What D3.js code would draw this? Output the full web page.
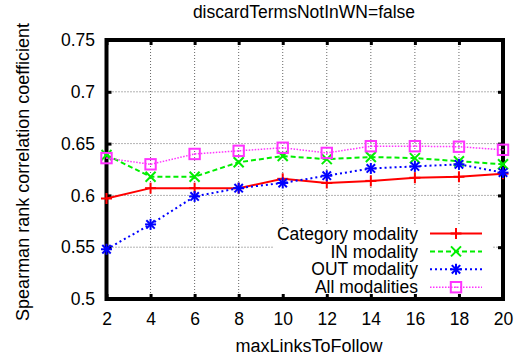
<!DOCTYPE html>
<html>
<head>
<meta charset="utf-8">
<script src="https://cdn.jsdelivr.net/npm/d3@7"></script>
<style>
  body { margin: 0; background: #fff; }
  text { font-family: "Liberation Sans", Arial, sans-serif; fill: #000; }
</style>
</head>
<body>
<div id="main"></div>
<script>
// data
const linkCounts = [2, 4, 6, 8, 10, 12, 14, 16, 18, 20];
const categoryModality = [0.597, 0.607, 0.607, 0.607, 0.616, 0.612, 0.614, 0.617, 0.618, 0.621];
const inModality = [0.639, 0.618, 0.618, 0.632, 0.638, 0.635, 0.637, 0.636, 0.633, 0.630];
const outModality = [0.548, 0.572, 0.599, 0.607, 0.612, 0.619, 0.626, 0.628, 0.630, 0.622];
const allModalities = [0.636, 0.630, 0.640, 0.643, 0.646, 0.641, 0.6475, 0.6475, 0.647, 0.644];
const yTicks = [0.5, 0.55, 0.6, 0.65, 0.7, 0.75];
const yTickLabels = ["0.5", "0.55", "0.6", "0.65", "0.7", "0.75"];

const width = 528;
const height = 361;
const plotLeft = 106.5, plotRight = 503, plotTop = 40, plotBottom = 299;

const svg = d3.select('#main').append('svg')
  .attr('width', width).attr('height', height);

const xScale = d3.scaleLinear().domain([2, 20]).range([plotLeft, plotRight]);
const yScale = d3.scaleLinear().domain([0.5, 0.75]).range([plotBottom, plotTop]);

// grid
const grid = svg.append('g').attr('stroke', '#666').attr('stroke-width', 1)
  .attr('stroke-dasharray', '1,2');
grid.selectAll('.gx').data(linkCounts.slice(1, -1)).enter().append('line')
  .attr('x1', d => xScale(d)).attr('x2', d => xScale(d))
  .attr('y1', plotTop).attr('y2', plotBottom);
grid.selectAll('.gy').data(yTicks.slice(1, -1)).enter().append('line')
  .attr('x1', plotLeft).attr('x2', plotRight)
  .attr('y1', d => yScale(d)).attr('y2', d => yScale(d));

// white key box over the grid
svg.append('rect').attr('x', 273).attr('y', 225).attr('width', 220).attr('height', plotBottom - 225)
  .attr('fill', '#fff');

// axes with inward ticks, mirrored on top and right
const xAxis = d3.axisBottom(xScale).tickValues(linkCounts).tickFormat(d3.format('d'))
  .tickSizeInner(-5).tickSizeOuter(0).tickPadding(26);
const yAxis = d3.axisLeft(yScale).tickValues(yTicks).tickFormat((d, i) => yTickLabels[i])
  .tickSizeInner(-5).tickSizeOuter(0).tickPadding(11.5);

const gx = svg.append('g').attr('transform', 'translate(0,' + plotBottom + ')').call(xAxis);
const gy = svg.append('g').attr('transform', 'translate(' + plotLeft + ',0)').call(yAxis);
svg.append('g').attr('transform', 'translate(0,' + plotTop + ')')
  .call(d3.axisTop(xScale).tickValues(linkCounts).tickFormat('').tickSizeInner(-5).tickSizeOuter(0));
svg.append('g').attr('transform', 'translate(' + plotRight + ',0)')
  .call(d3.axisRight(yScale).tickValues(yTicks).tickFormat('').tickSizeInner(-5).tickSizeOuter(0));

svg.selectAll('.domain').remove();
svg.selectAll('.tick line').attr('stroke', '#000').attr('stroke-width', 3);
gx.selectAll('text').style('font-size', '17.5px').attr('dy', '0');
gy.selectAll('text').style('font-size', '17.5px');

// plot border
svg.append('rect').attr('x', plotLeft).attr('y', plotTop)
  .attr('width', plotRight - plotLeft).attr('height', plotBottom - plotTop)
  .attr('fill', 'none').attr('stroke', '#000').attr('stroke-width', 4);

// series
const series = [
  { name: 'Category modality', values: categoryModality, color: '#ff0000', dash: null, width: 2, mark: 'plus' },
  { name: 'IN modality', values: inModality, color: '#00ee00', dash: '5,3', width: 2, mark: 'cross' },
  { name: 'OUT modality', values: outModality, color: '#0000ff', dash: '2,3', width: 2, mark: 'star' },
  { name: 'All modalities', values: allModalities, color: '#ff33ff', dash: '1.5,1.5', width: 1.5, mark: 'box' }
];

const line = d3.line().x(d => xScale(d[0])).y(d => yScale(d[1]));

function marker(g, cx, cy, s) {
  const r = 5.5;
  const m = g.append('g').attr('stroke', s.color).attr('stroke-width', 2).attr('fill', 'none');
  if (s.mark === 'plus' || s.mark === 'star') {
    m.append('line').attr('x1', cx - r).attr('x2', cx + r).attr('y1', cy).attr('y2', cy);
    m.append('line').attr('x1', cx).attr('x2', cx).attr('y1', cy - r).attr('y2', cy + r);
  }
  if (s.mark === 'cross' || s.mark === 'star') {
    const q = s.mark === 'star' ? 4.2 : 5;
    m.append('line').attr('x1', cx - q).attr('x2', cx + q).attr('y1', cy - q).attr('y2', cy + q);
    m.append('line').attr('x1', cx - q).attr('x2', cx + q).attr('y1', cy + q).attr('y2', cy - q);
  }
  if (s.mark === 'box') {
    m.append('rect').attr('x', cx - 5.2).attr('y', cy - 5.2).attr('width', 10.4).attr('height', 10.4);
    m.append('rect').attr('x', cx - 0.7).attr('y', cy - 0.7).attr('width', 1.4).attr('height', 1.4)
      .attr('fill', s.color).attr('stroke', 'none');
  }
}

series.forEach(s => {
  const pts = linkCounts.map((x, i) => [x, s.values[i]]);
  svg.append('path').datum(pts).attr('d', line)
    .attr('fill', 'none').attr('stroke', s.color).attr('stroke-width', s.width)
    .attr('stroke-dasharray', s.dash);
  pts.forEach(p => marker(svg, xScale(p[0]), yScale(p[1]), s));
});

// key
series.forEach((s, i) => {
  const y = 233.5 + i * 17.9;
  svg.append('text').attr('x', 418).attr('y', y).attr('dy', '0.35em')
    .attr('text-anchor', 'end').style('font-size', '17.5px').text(s.name);
  svg.append('line').attr('x1', 430).attr('x2', 482).attr('y1', y).attr('y2', y)
    .attr('stroke', s.color).attr('stroke-width', s.width).attr('stroke-dasharray', s.dash);
  marker(svg, 456, y, s);
});

// titles
svg.append('text').attr('x', 304).attr('y', 18).attr('text-anchor', 'middle')
  .style('font-size', '17.5px').text('discardTermsNotInWN=false');
svg.append('text').attr('x', 309).attr('y', 352).attr('text-anchor', 'middle')
  .style('font-size', '18px').text('maxLinksToFollow');
svg.append('text').attr('transform', 'translate(29,172) rotate(-90)').attr('text-anchor', 'middle')
  .style('font-size', '18px').text('Spearman rank correlation coefficient');
</script>
</body>
</html>
